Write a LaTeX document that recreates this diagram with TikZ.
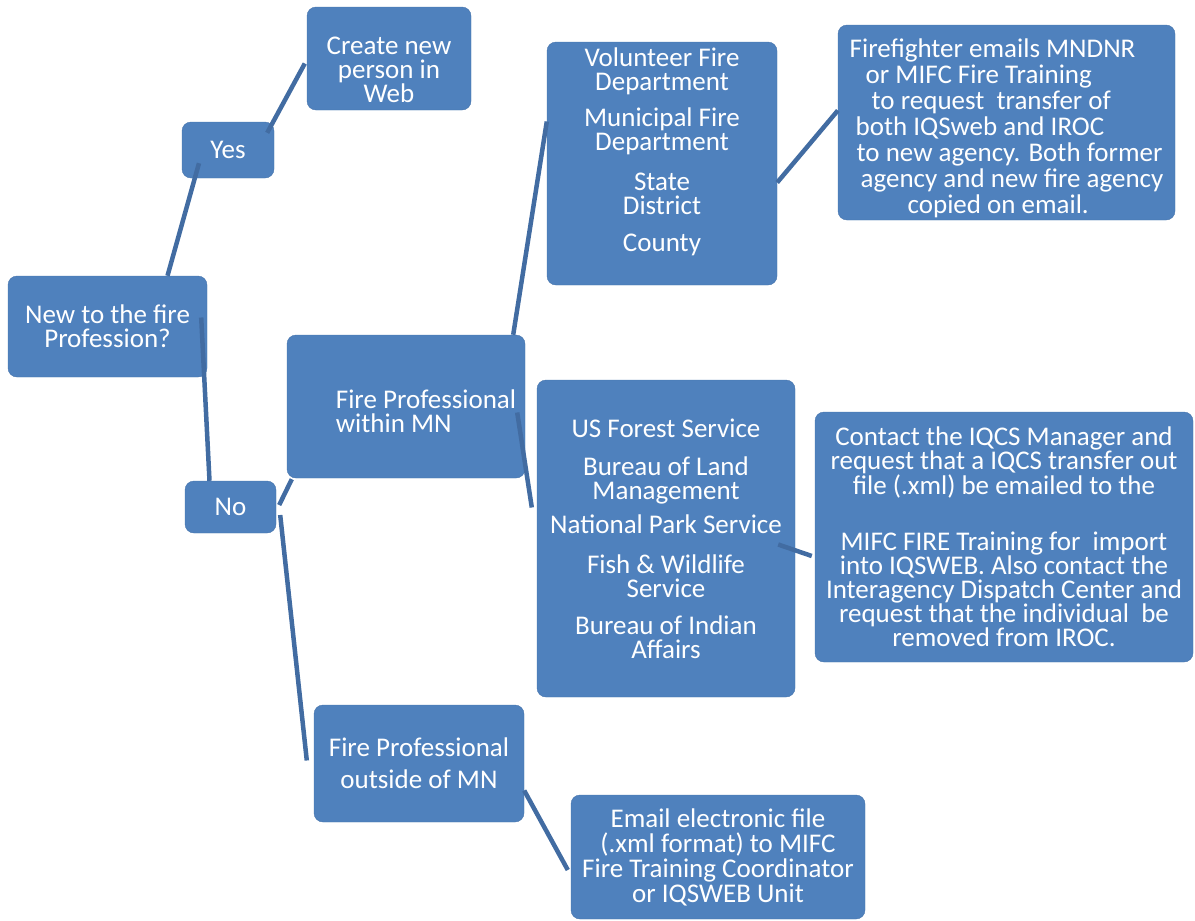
\documentclass[tikz,border=0pt]{standalone}
\usepackage{fontspec}
\setmainfont{Carlito}
\usepackage{tikz}

\definecolor{boxblue}{RGB}{79,129,189}
\definecolor{edgeblue}{RGB}{70,116,172}
\definecolor{linkblue}{RGB}{66,108,162}

\tikzset{
	stepbox/.style={shape=rectangle, rounded corners=9pt, draw=edgeblue, fill=boxblue,
		text=white, inner sep=0pt, align=center, font=\fontsize{27}{24}\selectfont},
	link/.style={-, line width=4.5pt, draw=linkblue}
}

\begin{document}
\begin{tikzpicture}[x=1pt, y=-1pt]
	
	\useasboundingbox (0,0) rectangle (1195,921);
	
	\node[stepbox, minimum width=164pt, minimum height=103pt] (web) at (389, 58.5)
		{\rule{0pt}{40pt}Create new\\person in\\Web};
	\node[stepbox, minimum width=92pt, minimum height=56pt] (yes) at (228, 150) {Yes};
	\node[stepbox, minimum width=199pt, minimum height=101pt] (new) at (107.5, 326.5)
		{New to the fire\\Profession?};
	\node[stepbox, minimum width=238pt, minimum height=143pt, align=left] (within) at (406, 406.5)
		{\hspace*{40pt}\rule{0pt}{28pt}Fire Professional\\\hspace*{40pt}within MN};
	\node[stepbox, minimum width=91pt, minimum height=52pt] (no) at (230.5, 507) {No};
	\node[stepbox, minimum width=210pt, minimum height=117pt] (outside) at (419, 763.5)
		{Fire Professional\\[8pt]outside of MN};
	
	\node[stepbox, minimum width=230pt, minimum height=243pt] (local) at (662, 163.5)
		{Volunteer Fire\\Department\\[12pt]Municipal Fire\\Department\\[16pt]State\\District\\[13pt]\rule[-28pt]{0pt}{1pt}County};
	\node[stepbox, minimum width=337pt, minimum height=195pt, align=left,
		font=\fontsize{27}{26}\selectfont] (transfer) at (1006.5, 122.5)
		{\rule{0pt}{30pt}Firefighter emails MNDNR\\
		\hspace*{16pt}or MIFC Fire Training\\
		\hspace*{22pt}to request\ \ transfer of\\
		\hspace*{6pt}both IQSweb and IROC\\
		\hspace*{7pt}to new agency. Both former\\
		\hspace*{11pt}agency and new fire agency\\
		\hspace*{58pt}copied\ on email.};
	
	\node[stepbox, minimum width=258pt, minimum height=317pt] (federal) at (666, 538.5)
		{US Forest Service\\[14pt]Bureau of Land\\Management\\[10pt]National Park Service\\[16pt]Fish \& Wildlife\\Service\\[13pt]Bureau of Indian\\Affairs};
	\node[stepbox, minimum width=378pt, minimum height=250pt] (iqcs) at (1004, 537)
		{Contact the IQCS Manager and\\request that a IQCS transfer out\\file (.xml) be emailed to the\\[32pt]MIFC FIRE Training for\ \ import\\into IQSWEB.\ Also contact the\\Interagency Dispatch Center and\\request that the individual\ \ be\\removed from IROC.};
	\node[stepbox, minimum width=294pt, minimum height=124pt, font=\fontsize{27}{25}\selectfont] (email) at (718, 857)
		{Email electronic file\\(.xml format) to MIFC\\Fire Training Coordinator\\or IQSWEB\ Unit};
	
	\path[link] ([xshift=60pt]new.north) edge ([xshift=-29pt,yshift=15pt]yes.south);
	\path[link] ([xshift=-7pt,yshift=-11pt]yes.north east) edge ([xshift=-2pt,yshift=-5pt]web.west);
	\path[link] ([xshift=-6pt,yshift=9pt]new.east) edge ([xshift=-21pt]no.north);
	\path[link] ([xshift=3pt,yshift=2pt]no.east) edge ([xshift=5pt,yshift=-1pt]within.south west);
	\path[link] ([xshift=4pt,yshift=-8pt]no.east) edge ([xshift=-7pt,yshift=3pt]outside.west);
	\path[link] ([xshift=-12pt]within.north east) edge ([yshift=42pt]local.west);
	\path[link] ([xshift=-8pt,yshift=-6pt]within.east) edge ([xshift=-5pt,yshift=31pt]federal.west);
	\path[link] ([yshift=-19pt]local.east) edge ([yshift=12pt]transfer.west);
	\path[link] ([xshift=-17pt,yshift=-6pt]federal.east) edge ([xshift=-3pt,yshift=-19pt]iqcs.west);
	\path[link] ([yshift=-27pt]outside.east) edge ([xshift=-3pt,yshift=-13pt]email.west);
	
\end{tikzpicture}
\end{document}
